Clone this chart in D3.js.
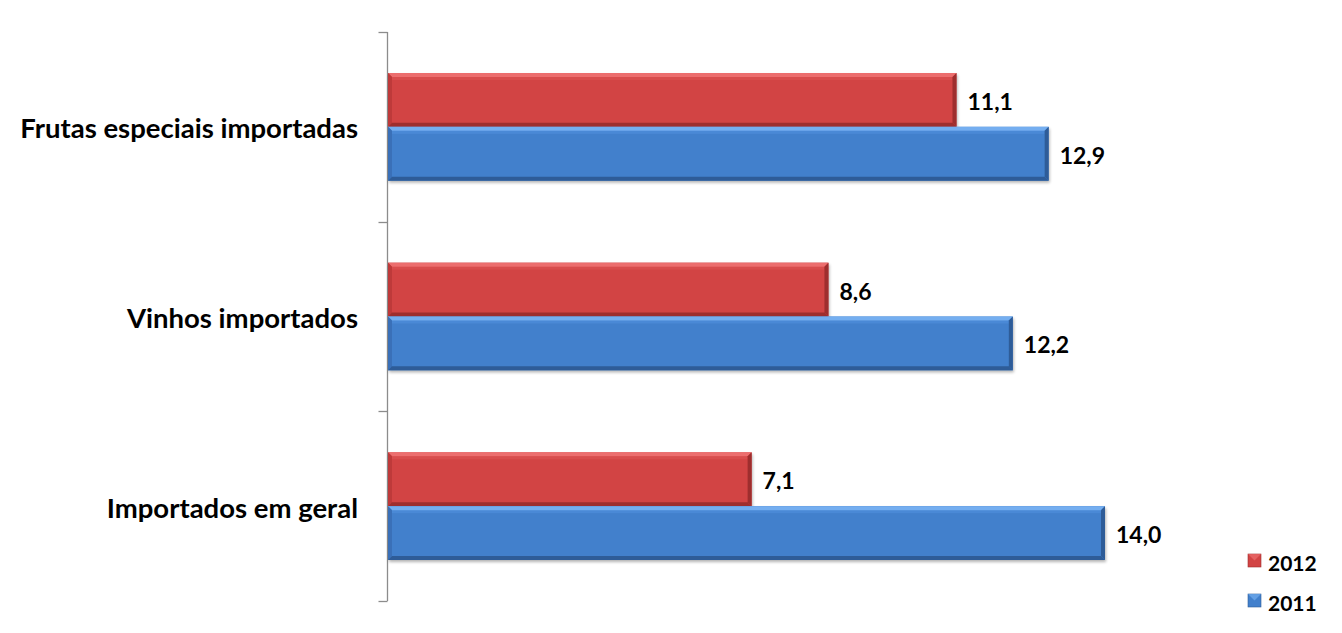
<!DOCTYPE html>
<html><head><meta charset="utf-8">
<script src="https://cdn.jsdelivr.net/npm/d3@7"></script>
<style>
html,body{margin:0;padding:0;background:#fff;}
svg{display:block;}
text{font-family:Lato,"Open Sans",sans-serif;font-weight:bold;fill:#000;}
</style></head>
<body>
<svg id="chart" width="1342" height="633"></svg>
<script>
const categories = ["Frutas especiais importadas", "Vinhos importados", "Importados em geral"];
const seriesNames = ["2012", "2011"];
const values2012 = [11.1, 8.6, 7.1];
const values2011 = [12.9, 12.2, 14.0];
const valueLabels2012 = ["11,1", "8,6", "7,1"];
const valueLabels2011 = ["12,9", "12,2", "14,0"];

const colors = {
  "2012": {main:"#D24444", light:"#EC6E6E", dark:"#9E2E2E", side:"#BE3A3A", top2:"#DC5454"},
  "2011": {main:"#4280CC", light:"#74AEF0", dark:"#2E5C98", side:"#3A70B8", top2:"#5090DC"}
};

const svg = d3.select("#chart");
const x0 = 388;
const x = d3.scaleLinear().domain([0, 14]).range([x0, 1105]);
const y = d3.scaleBand().domain(categories).range([32, 601]).paddingInner(0).paddingOuter(0);
const inner = d3.scaleBand().domain(seriesNames).range([41, y.bandwidth() - 41]);

// axis
const axisG = svg.append("g").attr("transform", `translate(${x0 - 0.5},0)`);
axisG.append("line").attr("x1",0).attr("x2",0).attr("y1",y.range()[0]).attr("y2",y.range()[1]).attr("stroke","#8c8c8c").attr("stroke-width",1.3);
const bounds = categories.map(c => y(c)).concat([y.range()[1]]);
axisG.selectAll(".tk").data(bounds).join("line")
  .attr("x1",-9).attr("x2",0).attr("y1",d=>Math.round(d)+0.5).attr("y2",d=>Math.round(d)+0.5)
  .attr("stroke","#8c8c8c").attr("stroke-width",1.3);

// category labels
svg.selectAll(".cat").data(categories).join("text")
  .attr("x", 358).attr("y", d => y(d) + y.bandwidth()/2 + 1)
  .attr("text-anchor","end").attr("dominant-baseline","central")
  .attr("font-size", 27.5).text(d => d);

const defs = svg.append("defs");
const flt = defs.append("filter").attr("id","sh").attr("x","-5%").attr("y","-20%").attr("width","115%").attr("height","150%");
flt.append("feGaussianBlur").attr("in","SourceAlpha").attr("stdDeviation",1.5).attr("result","b");
flt.append("feOffset").attr("dx",1).attr("dy",2).attr("result","o");
flt.append("feComponentTransfer").append("feFuncA").attr("type","linear").attr("slope",0.3);

function drawBar(g, cat, s, v, lbl) {
  const c = colors[s];
  const bx = x(0), bw = x(v) - x(0);
  const by = y(cat) + inner(s), bh = inner.bandwidth();
  const e = 4;
  const grp = g.append("g");
  grp.append("rect").attr("x",bx).attr("y",by).attr("width",bw).attr("height",bh).attr("fill","#000").attr("filter","url(#sh)");
  grp.append("rect").attr("x",bx).attr("y",by).attr("width",bw).attr("height",bh).attr("fill",c.main);
  grp.append("rect").attr("x",bx+e).attr("y",by+e).attr("width",Math.max(0,bw-2*e)).attr("height",3).attr("fill",c.top2).attr("opacity",0.6);
  const poly = (pts, fill) => grp.append("polygon").attr("points", pts.map(p=>p.join(",")).join(" ")).attr("fill", fill);
  poly([[bx,by],[bx+bw,by],[bx+bw-e,by+e],[bx+e,by+e]], c.light);
  poly([[bx,by],[bx+e,by+e],[bx+e,by+bh-e],[bx,by+bh]], c.side);
  poly([[bx,by+bh],[bx+e,by+bh-e],[bx+bw-e,by+bh-e],[bx+bw,by+bh]], c.dark);
  poly([[bx+bw,by],[bx+bw,by+bh],[bx+bw-e,by+bh-e],[bx+bw-e,by+e]], c.dark);
  g.append("text").attr("x", x(v) + 11).attr("y", by + bh/2 + 1)
    .attr("dominant-baseline","central").attr("font-size",23).text(lbl);
}

const bars = svg.append("g");
categories.forEach((cat,i) => {
  drawBar(bars, cat, "2012", values2012[i], valueLabels2012[i]);
  drawBar(bars, cat, "2011", values2011[i], valueLabels2011[i]);
});

// legend
const legend = svg.append("g");
const legendY = [561, 601];
seriesNames.forEach((s,i) => {
  const c = colors[s];
  const lx = 1248, ly = legendY[i] - 7, sz = 13;
  legend.append("rect").attr("x",lx).attr("y",ly).attr("width",sz).attr("height",sz).attr("fill",c.main).attr("stroke",c.dark).attr("stroke-width",0.6);
  legend.append("polygon").attr("points",`${lx},${ly} ${lx+sz},${ly} ${lx+sz/2},${ly+sz/2}`).attr("fill",c.light).attr("opacity",0.7);
  legend.append("text").attr("x", 1268).attr("y", legendY[i] + 1).attr("dominant-baseline","central").attr("font-size",21).text(s);
});
</script>
</body></html>
